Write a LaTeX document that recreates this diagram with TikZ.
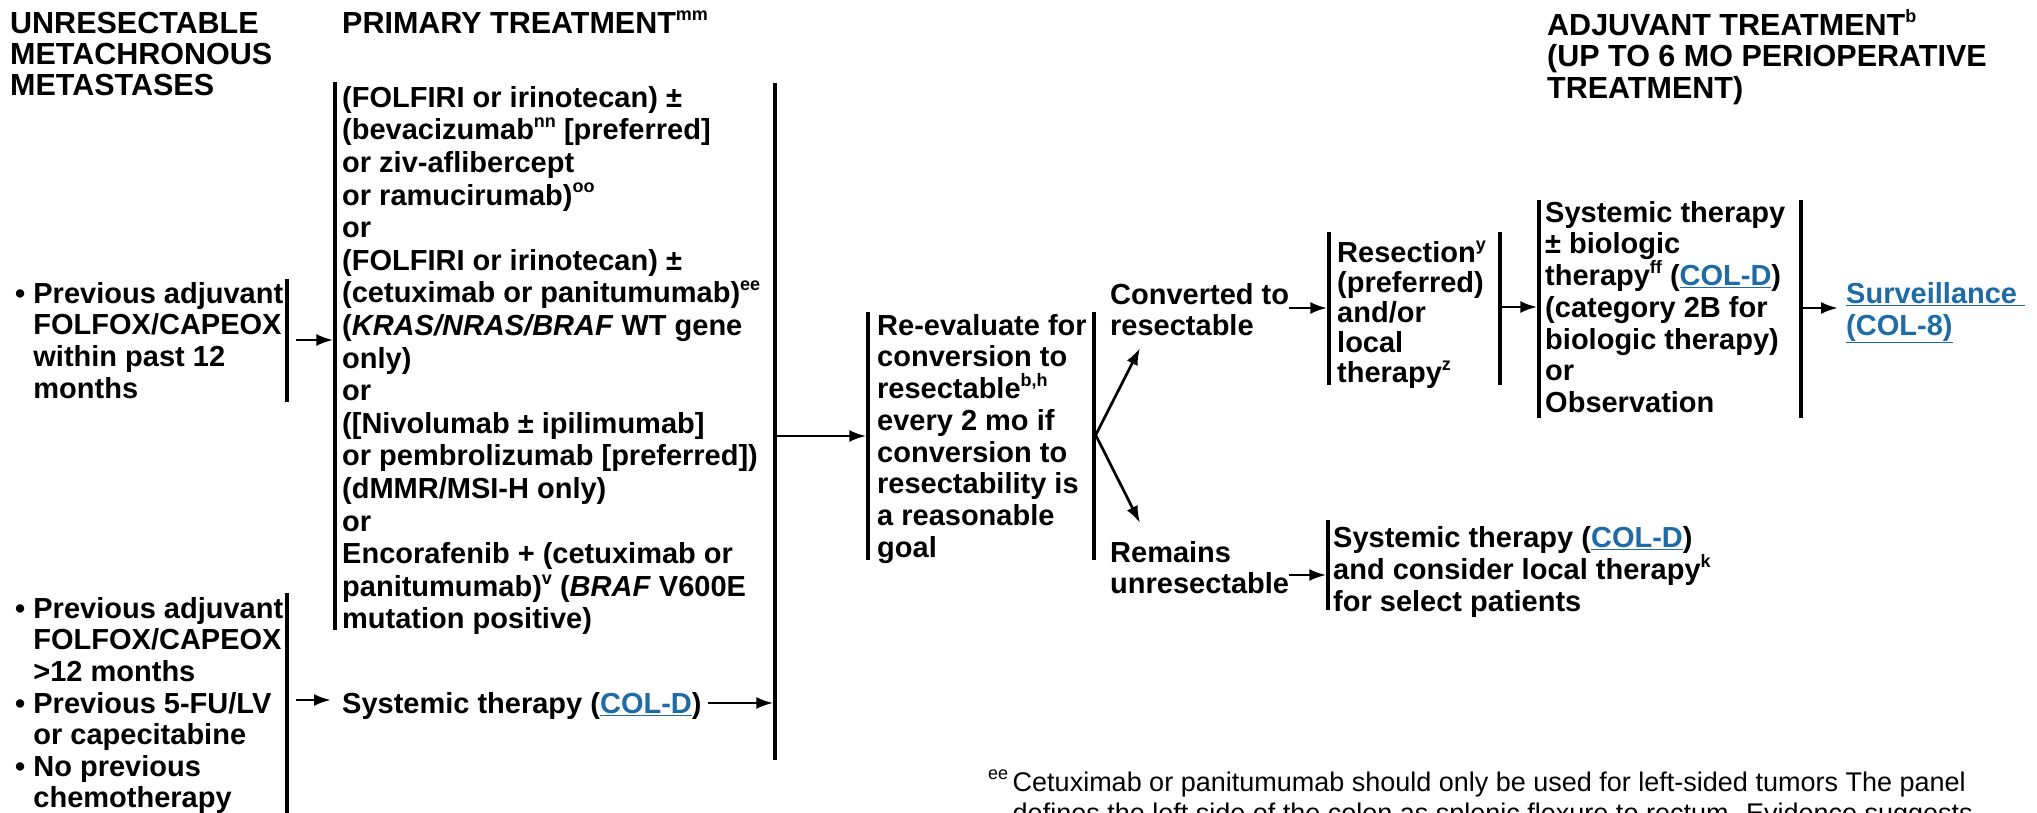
\documentclass[tikz,border=0pt]{standalone}
\usepackage{fontspec}
\setmainfont{Liberation Sans}
\usetikzlibrary{arrows.meta}
\definecolor{linkblue}{HTML}{1F6BA5}
\newcommand{\sps}[1]{\raisebox{0.42em}{\fontsize{18}{18}\selectfont #1}}
\newcommand{\lnk}[1]{\textcolor{linkblue}{\underline{#1}}}
\newcommand{\fls}{\rule{0pt}{24pt}}
\newcommand{\ind}{\hphantom{\textbullet\ }}
\tikzset{
  txt/.style={anchor=north west, inner sep=0pt, align=left, text=black},
  bs/.style={font=\fontsize{29}{#1}\selectfont\bfseries},
  hd/.style={font=\fontsize{30.5}{#1}\selectfont\bfseries},
  bar/.style={line width=3.4pt},
  arr/.style={line width=2.7pt, -{Latex[length=17pt,width=12pt]}},
}
\begin{document}
\begin{tikzpicture}[x=1pt,y=-1pt]
\fill[white] (0,0) rectangle (2037,813);
\useasboundingbox (0,0) rectangle (2037,813);

% headers
\node[txt,hd=31] (hdrL) at (10,9) {\fls UNRESECTABLE\\METACHRONOUS\\METASTASES};
\node[txt,hd=31] (hdrP) at (342,9) {\fls PRIMARY TREATMENT\sps{mm}};
\node[txt,hd=31.5] (hdrA) at (1547,9) {\fls ADJUVANT TREATMENT\sps{b}\\(UP TO 6 MO PERIOPERATIVE\\TREATMENT)};

% left groups
\node[txt,bs=31.7] (g1) at (15,279) {\fls\textbullet\ Previous adjuvant\\\ind FOLFOX/CAPEOX\\\ind within past 12\\\ind months};
\node[txt,bs=31.6] (g2) at (15,594) {\fls\textbullet\ Previous adjuvant\\\ind FOLFOX/CAPEOX\\\ind >12 months\\\textbullet\ Previous 5-FU/LV\\\ind or capecitabine\\\textbullet\ No previous\\\ind chemotherapy};

% primary treatment
\node[txt,bs=32.6] (p1) at (342,83) {\fls(FOLFIRI or irinotecan) ±\\
(bevacizumab\sps{nn} [preferred]\\
or ziv-aflibercept\\
or ramucirumab)\sps{oo}\\
or\\
(FOLFIRI or irinotecan) ±\\
(cetuximab or panitumumab)\sps{ee}\\
(\textit{KRAS/NRAS/BRAF} WT gene\\
only)\\
or\\
([Nivolumab ± ipilimumab]\\
or pembrolizumab [preferred])\\
(dMMR/MSI-H only)\\
or\\
Encorafenib + (cetuximab or\\
panitumumab)\sps{v} (\textit{BRAF} V600E\\
mutation positive)};
\node[txt,bs=31] (p2) at (342,689) {\fls Systemic therapy (\lnk{COL-D})};

% re-evaluate
\node[txt,bs=31.7] (re) at (877,311) {\fls Re-evaluate for\\conversion to\\resectable\sps{b,h}\\every 2 mo if\\conversion to\\resectability is\\a reasonable\\goal};

\node[txt,bs=31] (conv) at (1110,280) {\fls Converted to\\resectable};
\node[txt,bs=31] (rem) at (1110,538) {\fls Remains\\unresectable};

\node[txt,bs=30] (res) at (1337,238) {\fls Resection\sps{y}\\(preferred)\\and/or\\local\\therapy\sps{z}};
\node[txt,bs=31.7] (adj) at (1545,198) {\fls Systemic therapy\\± biologic\\therapy\sps{ff} (\lnk{COL-D})\\(category 2B for\\biologic therapy)\\or\\Observation};
\node[txt,bs=32] (surv) at (1846,279) {\fls\lnk{Surveillance\ }\\\lnk{(COL-8)}};
\node[txt,bs=32] (sys2) at (1333,523) {\fls Systemic therapy (\lnk{COL-D})\\and consider local therapy\sps{k}\\for select patients};

% footnote
\node[txt,font=\fontsize{27}{31}\selectfont] (fn) at (988,768) {\rule{0pt}{23pt}\sps{ee}\,Cetuximab or panitumumab should only be used for left-sided tumors The panel\\\hphantom{\sps{ee}\,}defines the left side of the colon as splenic flexure to rectum. Evidence suggests};

% bars
\coordinate (g1t) at (287,279); \coordinate (g1b) at (287,402);
\coordinate (g2t) at (287,593); \coordinate (g2b) at (287,820);
\coordinate (p1t) at (335,82);  \coordinate (p1b) at (335,630);
\coordinate (prt) at (775,83);  \coordinate (prb) at (775,760);
\coordinate (rlt) at (868,312); \coordinate (rlb) at (868,560);
\coordinate (rrt) at (1094,312); \coordinate (rrb) at (1094,560);
\coordinate (slt) at (1329,232); \coordinate (slb) at (1329,385);
\coordinate (srt) at (1500,232); \coordinate (srb) at (1500,385);
\coordinate (alt) at (1539,200); \coordinate (alb) at (1539,418);
\coordinate (art) at (1801,200); \coordinate (arb) at (1801,418);
\coordinate (qt) at (1328,520);  \coordinate (qb) at (1328,610);
\foreach \a/\b in {g1t/g1b,g2t/g2b,p1t/p1b,prt/prb,rlt/rlb,rrt/rrb,slt/slb,srt/srb,alt/alb,art/arb,qt/qb}
  \draw[bar] (\a) -- (\b);

% arrows
\coordinate (a1s) at (296,340);  \coordinate (a1e) at (333.3,340);
\coordinate (a2s) at (296,700);  \coordinate (a2e) at (331,700);
\coordinate (a3s) at (708,703);  \coordinate (a3e) at (773.3,703);
\coordinate (a4s) at (777,436);  \coordinate (a4e) at (866.3,436);
\coordinate (br)  at (1095.7,435);
\coordinate (brU) at (1140,348); \coordinate (brD) at (1140,523);
\coordinate (a5s) at (1289,308); \coordinate (a5e) at (1327.3,308);
\coordinate (a6s) at (1289,575); \coordinate (a6e) at (1326.3,575);
\coordinate (a7s) at (1501.7,307); \coordinate (a7e) at (1537.3,307);
\coordinate (a8s) at (1802.7,308); \coordinate (a8e) at (1838,308);
\foreach \a/\b in {a1s/a1e,a2s/a2e,a3s/a3e,a4s/a4e,br/brU,br/brD,a5s/a5e,a6s/a6e,a7s/a7e,a8s/a8e}
  \draw[arr] (\a) -- (\b);
\end{tikzpicture}
\end{document}
